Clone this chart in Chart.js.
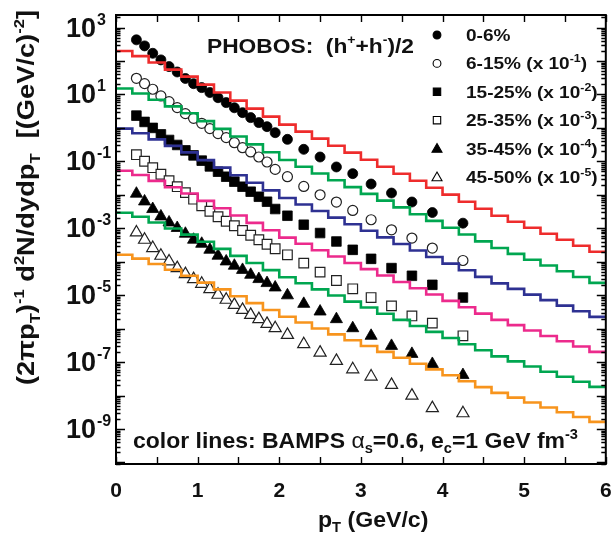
<!DOCTYPE html>
<html>
<head>
<meta charset="utf-8">
<script src="https://cdn.jsdelivr.net/npm/chart.js@4.4.0/dist/chart.umd.min.js"></script>
<style>
  html, body { margin: 0; padding: 0; background: #fff; }
  canvas { display: block; }
</style>
</head>
<body>
<canvas id="chart" width="614" height="542"></canvas>
<script>
// PHOBOS data points (pT in GeV/c)
const ptData = [0.25, 0.35, 0.45, 0.55, 0.65, 0.75, 0.85, 0.95, 1.05, 1.15, 1.25, 1.35, 1.45, 1.55, 1.65, 1.75, 1.85, 1.95,
  2.1, 2.3, 2.5, 2.7, 2.9, 3.125, 3.375, 3.625, 3.875, 4.25];

const cent0to6 = [429, 283, 170, 108, 68, 47, 30, 21, 16, 11.4, 8.0, 5.7, 4.0, 2.86, 2.03, 1.44, 1.09, 0.72,
  0.455, 0.229, 0.135, 0.068, 0.043, 0.021, 0.0113, 0.0061, 0.00295, 0.00142];
const cent6to15 = [30.4, 21.1, 14.3, 9.04, 6.11, 4.04, 2.67, 1.93, 1.37, 0.95, 0.673, 0.511, 0.362, 0.256, 0.191, 0.135, 0.0957, 0.0575,
  0.0348, 0.0178, 0.01, 0.00608, 0.00341, 0.0018, 0.0009, 0.00051, 0.000256, 0.000109];
const cent15to25 = [2.33, 1.51, 1.0, 0.64, 0.436, 0.309, 0.213, 0.151, 0.105, 0.0708, 0.0491, 0.0348, 0.0247, 0.0175, 0.0124, 0.00877, 0.00622, 0.00376,
  0.00237, 0.00128, 0.00072, 0.000403, 0.000227, 0.000122, 6.45e-5, 3.8e-5, 2.04e-5, 8.5e-6];
const cent25to35 = [0.158, 0.101, 0.0647, 0.0412, 0.0264, 0.0175, 0.0116, 0.00739, 0.00472, 0.00323, 0.00221, 0.00162, 0.00119, 0.00086, 0.000618, 0.000454, 0.000333, 0.000244,
  0.000161, 9.1e-5, 4.9e-5, 2.75e-5, 1.55e-5, 8.5e-6, 4.8e-6, 2.4e-6, 1.46e-6, 6.1e-7];
const cent35to45 = [0.0108, 0.00634, 0.00376, 0.00226, 0.00149, 0.00102, 0.000686, 0.000454, 0.000344, 0.000228, 0.000151, 0.000102, 7.6e-5, 5.7e-5, 4.07e-5, 3.03e-5, 2.3e-5, 1.7e-5,
  9.9e-6, 5.5e-6, 3.25e-6, 1.92e-6, 1.03e-6, 6.1e-7, 3.05e-7, 1.76e-7, 8.8e-8, 4.1e-8];
const cent45to50 = [7.5e-4, 4.54e-4, 2.56e-4, 1.51e-4, 1.02e-4, 6.45e-5, 4.26e-5, 3.03e-5, 2.19e-5, 1.52e-5, 1.03e-5, 7.3e-6, 5.15e-6, 3.65e-6, 2.58e-6, 1.92e-6, 1.39e-6, 1.03e-6,
  6.5e-7, 3.43e-7, 1.92e-7, 1.09e-7, 6.1e-8, 3.7e-8, 2.08e-8, 9.95e-9, 4.2e-9, 2.96e-9];

// BAMPS histograms: left bin edges (last edge closes the final bin)
const binEdges = [0, 0.2, 0.4, 0.6, 0.8, 1.0, 1.2, 1.4, 1.6, 1.8, 2.0, 2.2, 2.4, 2.6, 2.8, 3.0,
  3.2, 3.4, 3.6, 3.8, 4.0, 4.2, 4.4, 4.6, 4.8, 5.0, 5.2, 5.4, 5.6, 5.8, 6.0];
const bampsRed = [198, 140, 89.7, 55.3, 34.2, 19.7, 11.4, 6.55, 3.77, 2.17, 1.25, 0.773, 0.478, 0.294, 0.182,
  0.112, 0.0693, 0.0428, 0.0264, 0.0163, 0.0101, 0.00622, 0.00384, 0.00237, 0.00157, 0.00104, 0.000686, 0.000453, 0.0003, 0.000198];
const bampsGreen = [15, 10.7, 6.97, 4.39, 2.75, 1.60, 0.937, 0.551, 0.322, 0.188, 0.110, 0.0693, 0.0434, 0.0272, 0.0170,
  0.0107, 0.0067, 0.0042, 0.00263, 0.00166, 0.00104, 0.00065, 0.000406, 0.000256, 0.000172, 0.000115, 7.7e-5, 5.2e-5, 3.5e-5, 2.34e-5];
const bampsBlue = [0.951, 0.692, 0.455, 0.291, 0.185, 0.109, 0.0649, 0.0386, 0.0230, 0.0136, 0.00805, 0.00515, 0.00327, 0.00208, 0.00132,
  0.000843, 0.000535, 0.00034, 0.000216, 0.000138, 8.77e-5, 5.56e-5, 3.53e-5, 2.25e-5, 1.54e-5, 1.04e-5, 7.1e-6, 4.86e-6, 3.3e-6, 2.25e-6];
const bampsPink = [0.0526, 0.039, 0.0261, 0.0169, 0.0109, 0.00658, 0.00397, 0.0024, 0.00145, 0.000875, 0.000527, 0.000343, 0.000221, 0.000143, 9.2e-5,
  6.0e-5, 3.86e-5, 2.49e-5, 1.61e-5, 1.05e-5, 6.78e-6, 4.37e-6, 2.82e-6, 1.83e-6, 1.27e-6, 8.77e-7, 6.05e-7, 4.22e-7, 2.92e-7, 2.02e-7];
const bampsGreen2 = [0.00291, 0.0022, 0.00149, 0.000986, 0.000647, 0.000395, 0.000243, 0.00015, 9.18e-5, 5.62e-5, 3.45e-5, 2.28e-5, 1.49e-5, 9.8e-6, 6.43e-6,
  4.27e-6, 2.79e-6, 1.83e-6, 1.2e-6, 7.98e-7, 5.24e-7, 3.43e-7, 2.25e-7, 1.48e-7, 1.05e-7, 7.36e-8, 5.16e-8, 3.66e-8, 2.58e-8, 1.82e-8];
const bampsOrange = [0.000161, 0.000124, 8.55e-5, 5.74e-5, 3.83e-5, 2.38e-5, 1.49e-5, 9.3e-6, 5.81e-6, 3.61e-6, 2.26e-6, 1.52e-6, 1.01e-6, 6.75e-7, 4.49e-7,
  3.03e-7, 2.02e-7, 1.35e-7, 8.97e-8, 6.07e-8, 4.05e-8, 2.69e-8, 1.79e-8, 1.2e-8, 8.67e-9, 6.18e-9, 4.41e-9, 3.17e-9, 2.28e-9, 1.63e-9];

// Axis ticks and labels
const xTicks = [0, 0.5, 1, 1.5, 2, 2.5, 3, 3.5, 4, 4.5, 5, 5.5, 6];
const xTickLabels = ['0', '1', '2', '3', '4', '5', '6'];
const yLabelExponents = [3, 1, -1, -3, -5, -7, -9];
const legendLabels = [
  [['0-6%', '']],
  [['6-15% (x 10', ''], ['-1', 'sup'], [')', '']],
  [['15-25% (x 10', ''], ['-2', 'sup'], [')', '']],
  [['25-35% (x 10', ''], ['-3', 'sup'], [')', '']],
  [['35-45% (x 10', ''], ['-4', 'sup'], [')', '']],
  [['45-50% (x 10', ''], ['-5', 'sup'], [')', '']]
];

const INK = '#111';
const FACE = '"Liberation Sans", Arial, Helvetica, sans-serif';

function fontFor(kind, size) {
  if (kind === 'greek') return `${size}px ${FACE}`;
  const s = (kind === 'sup' || kind === 'sub') ? Math.round(size * 0.62) : size;
  return `bold ${s}px ${FACE}`;
}

function richWidth(ctx, runs, size) {
  let w = 0;
  runs.forEach(([t, k]) => { ctx.font = fontFor(k, size); w += ctx.measureText(t).width; });
  return w;
}

// draws text runs with super/subscripts, optionally stretched to a width
function drawRich(ctx, runs, x, y, size, width, sx) {
  const nat = richWidth(ctx, runs, size);
  const scaleX = sx || (width ? width / nat : 1);
  ctx.save();
  ctx.translate(x, y);
  ctx.scale(scaleX, 1);
  ctx.textAlign = 'left';
  ctx.textBaseline = 'alphabetic';
  let cx = 0;
  runs.forEach(([t, k]) => {
    ctx.font = fontFor(k, size);
    const dy = k === 'sup' ? -size * 0.42 : (k === 'sub' ? size * 0.24 : 0);
    ctx.fillText(t, cx, dy);
    cx += ctx.measureText(t).width;
  });
  ctx.restore();
  return nat * scaleX;
}

function legendMarker(ctx, style, filled, x, y) {
  ctx.save();
  ctx.fillStyle = filled ? '#000' : '#fff';
  ctx.strokeStyle = '#000';
  ctx.lineWidth = 1.1;
  ctx.beginPath();
  if (style === 'circle') {
    ctx.arc(x, y, 3.9, 0, Math.PI * 2);
  } else if (style === 'rect') {
    ctx.rect(x - 3.7, y - 3.7, 7.4, 7.4);
  } else {
    ctx.moveTo(x, y - 5);
    ctx.lineTo(x + 5, y + 3.7);
    ctx.lineTo(x - 5, y + 3.7);
    ctx.closePath();
  }
  ctx.fill();
  ctx.stroke();
  ctx.restore();
}

const markerStyles = [
  ['circle', true], ['circle', false], ['rect', true], ['rect', false], ['triangle', true], ['triangle', false]
];

const decorations = {
  id: 'decorations',
  afterDatasetsDraw(chart) {
    const { ctx, chartArea: a, scales: { x, y } } = chart;
    ctx.save();
    ctx.strokeStyle = '#000';
    ctx.lineWidth = 2;
    ctx.strokeRect(a.left, a.top, a.right - a.left, a.bottom - a.top);

    ctx.lineWidth = 1.4;
    ctx.beginPath();
    xTicks.forEach(v => {
      const px = Math.round(x.getPixelForValue(v)) + 0.5;
      ctx.moveTo(px, a.bottom); ctx.lineTo(px, a.bottom - 7);
      ctx.moveTo(px, a.top); ctx.lineTo(px, a.top + 7);
    });
    for (let e = -11; e <= 3; e++) {
      for (let m = 1; m <= 9; m++) {
        const v = m * Math.pow(10, e);
        if (v < y.min || v > y.max) continue;
        const py = Math.round(y.getPixelForValue(v)) + 0.5;
        const len = m === 1 ? 9 : 4.5;
        ctx.moveTo(a.left, py); ctx.lineTo(a.left + len, py);
        ctx.moveTo(a.right, py); ctx.lineTo(a.right - len, py);
      }
    }
    ctx.stroke();
    ctx.restore();
  },
  afterDraw(chart) {
    const { ctx, chartArea: a, scales: { x, y } } = chart;
    ctx.save();
    ctx.fillStyle = INK;

    // x tick labels
    ctx.font = `bold 21px ${FACE}`;
    ctx.textAlign = 'center';
    xTickLabels.forEach(t => {
      ctx.fillText(t, x.getPixelForValue(Number(t)), 497);
    });

    // y tick labels 10^n
    yLabelExponents.forEach(n => {
      const py = y.getPixelForValue(Math.pow(10, n));
      ctx.font = `bold 27px ${FACE}`;
      ctx.textAlign = 'right';
      ctx.fillText('10', 96, py + 9);
      ctx.font = `bold 16px ${FACE}`;
      ctx.textAlign = 'left';
      ctx.fillText(String(n), 97, py - 3);
    });

    // axis titles
    drawRich(ctx, [['p', ''], ['T', 'sub'], [' (GeV/c)', '']], 318, 527, 22, 0, 1.05);
    ctx.save();
    ctx.translate(34, 385);
    ctx.rotate(-Math.PI / 2);
    drawRich(ctx, [['(2', ''], ['π', ''], ['p', ''], ['T', 'sub'], [')', ''], ['-1', 'sup'], [' d', ''], ['2', 'sup'],
      ['N/dydp', ''], ['T', 'sub'], ['  [(GeV/c)', ''], ['-2', 'sup'], [']', '']], 0, 0, 23, 375);
    ctx.restore();

    // annotations
    drawRich(ctx, [['PHOBOS:  (h', ''], ['+', 'sup'], ['+h', ''], ['-', 'sup'], [')/2', '']], 207, 53, 21, 207);
    drawRich(ctx, [['color lines: BAMPS ', ''], ['α', 'greek'], ['s', 'sub'], ['=0.6, e', ''], ['c', 'sub'],
      ['=1 GeV fm', ''], ['-3', 'sup']], 133, 448, 22, 445);

    // legend
    const legSize = 17;
    const legScale = 121 / richWidth(ctx, legendLabels[1], legSize);
    legendLabels.forEach((runs, i) => {
      const cy = 35 + i * 28.4;
      legendMarker(ctx, markerStyles[i][0], markerStyles[i][1], 437, cy);
      ctx.fillStyle = INK;
      drawRich(ctx, runs, 466, cy + 6, legSize, 0, legScale);
    });
    ctx.restore();
  }
};

function pointSet(values, style, filled, radius) {
  return {
    data: ptData.map((p, i) => ({ x: p, y: values[i] })),
    showLine: false,
    pointStyle: style,
    pointRadius: radius,
    pointBackgroundColor: filled ? '#000' : '#fff',
    pointBorderColor: filled ? '#000' : '#222',
    pointBorderWidth: filled ? 0.8 : 1.2,
    order: 2
  };
}

function histSet(values, color) {
  return {
    data: binEdges.map((e, i) => ({ x: e, y: values[Math.min(i, values.length - 1)] })),
    stepped: 'before',
    borderColor: color,
    borderWidth: 2.6,
    pointRadius: 0,
    fill: false,
    order: 1
  };
}

new Chart(document.getElementById('chart'), {
  type: 'line',
  data: {
    datasets: [
      histSet(bampsRed, '#ee2c2c'),
      histSet(bampsGreen, '#00a650'),
      histSet(bampsBlue, '#2e3192'),
      histSet(bampsPink, '#ec2a8c'),
      histSet(bampsGreen2, '#00a650'),
      histSet(bampsOrange, '#f7941d'),
      pointSet(cent0to6, 'circle', true, 5),
      pointSet(cent6to15, 'circle', false, 5),
      pointSet(cent15to25, 'rect', true, 6.8),
      pointSet(cent25to35, 'rect', false, 6.8),
      pointSet(cent35to45, 'triangle', true, 7),
      pointSet(cent45to50, 'triangle', false, 7)
    ]
  },
  options: {
    responsive: false,
    animation: false,
    devicePixelRatio: 1,
    layout: { padding: { left: 116, right: 8, top: 15, bottom: 78 } },
    plugins: { legend: { display: false }, tooltip: { enabled: false } },
    scales: {
      x: { type: 'linear', min: 0, max: 6, display: false },
      y: { type: 'logarithmic', min: 9e-11, max: 2370, display: false }
    }
  },
  plugins: [decorations]
});
</script>
</body>
</html>
